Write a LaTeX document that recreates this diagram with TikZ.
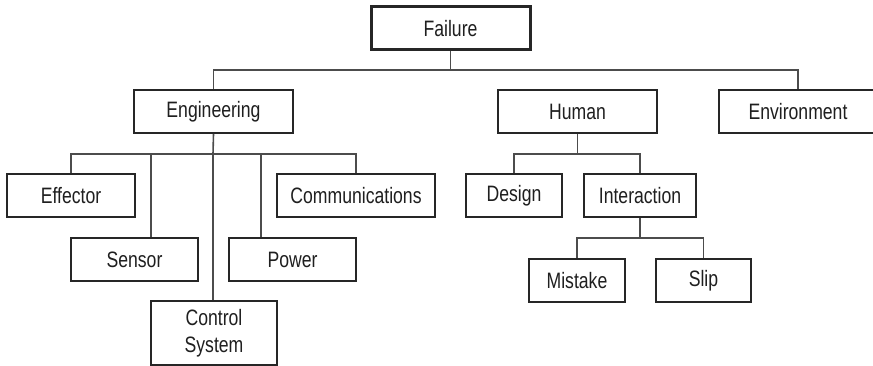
\documentclass[tikz,border=0pt]{standalone}
\usepackage{fontspec}
\setmainfont{Liberation Sans}[FakeStretch=0.79]
\begin{document}
\begin{tikzpicture}[x=1pt,y=-1pt,
  box/.style={draw=black!85,line width=1.8pt,fill=white,inner sep=0pt,
    minimum height=43pt,text=black!88,font=\fontsize{22.3}{27}\selectfont,align=center},
  topbox/.style={box,line width=3pt},
  link/.style={draw=black!70,line width=1.6pt}]
\useasboundingbox (0,0) rectangle (873,366);
% nodes
\node[topbox,minimum width=159pt] (fail) at (450.5,28.5) {Failure};
\node[box,minimum width=159pt] (eng) at (213.5,111.5) {Engineering};
\node[box,minimum width=159pt] (hum) at (577.5,111.5) {Human};
\node[box,minimum width=158pt] (env) at (798,111.5) {Environment};
\node[box,minimum width=128pt] (eff) at (71,195.5) {Effector};
\node[box,minimum width=158pt] (com) at (356,195.5) {Communications};
\node[box,minimum width=127pt] (sen) at (134.5,259.5) {Sensor};
\node[box,minimum width=127pt] (pow) at (292.5,259.5) {Power};
\node[box,minimum width=126pt,minimum height=64pt] (ctl) at (214,333) {Control\\System};
\node[box,minimum width=96pt] (des) at (514,195.5) {Design};
\node[box,minimum width=112pt] (int) at (640,195.5) {Interaction};
\node[box,minimum width=96pt] (mis) at (577,280.5) {Mistake};
\node[box,minimum width=95pt] (slp) at (703.5,280.5) {Slip};
% bus coordinates
\coordinate (b0) at (450.5,70);
\coordinate (b1) at (213,154);
\coordinate (b2) at (577.5,154);
\coordinate (b3) at (640,238);
\coordinate (sstem) at (151,154);
\coordinate (pstem) at (261,154);
% connectors
\path[link] (fail.south) -- (b0);
\path[link] (eng.north) -- (eng.north |- b0) -- (env.north |- b0) -- (env.north);
\path[link] (eng.south) -- (b1);
\path[link] (eff.north) -- (eff.north |- b1) -- (com.north |- b1) -- (com.north);
\path[link] (sstem) -- (sstem |- sen.north);
\path[link] (pstem) -- (pstem |- pow.north);
\path[link] (b1) -- (b1 |- ctl.north);
\path[link] (hum.south) -- (b2);
\path[link] (des.north) -- (des.north |- b2) -- (int.north |- b2) -- (int.north);
\path[link] (int.south) -- (b3);
\path[link] (mis.north) -- (mis.north |- b3) -- (slp.north |- b3) -- (slp.north);
\end{tikzpicture}
\end{document}
